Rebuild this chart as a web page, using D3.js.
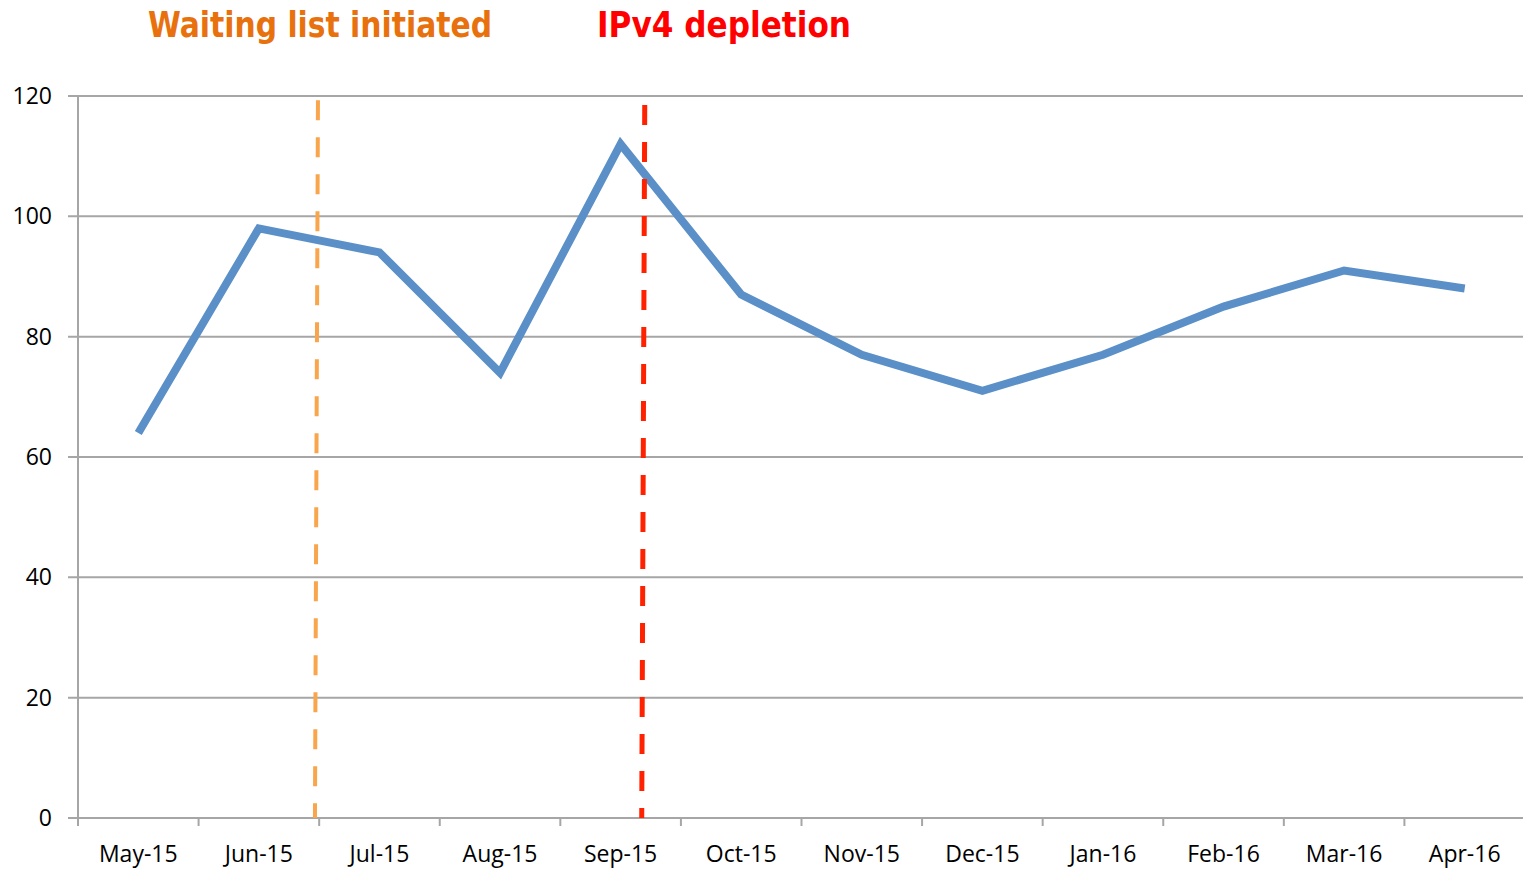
<!DOCTYPE html>
<html>
<head>
<meta charset="utf-8">
<script src="https://cdn.jsdelivr.net/npm/d3@7"></script>
<style>
  body { margin: 0; background: #fff; }
  svg { display: block; }
</style>
</head>
<body>
<div id="chart"></div>
<script>
var months = ["May-15", "Jun-15", "Jul-15", "Aug-15", "Sep-15", "Oct-15",
  "Nov-15", "Dec-15", "Jan-16", "Feb-16", "Mar-16", "Apr-16"];
var values = [64, 98, 94, 74, 112, 87, 77, 71, 77, 85, 91, 88];
var yTicks = [0, 20, 40, 60, 80, 100, 120];

// event markers, position given in month units from the left edge
var eventLabels = ["Waiting list initiated", "IPv4 depletion"];
var eventTop = [1.99, 4.70];
var eventBottom = [1.965, 4.675];
var eventTopValue = [119.3, 118.5];

var width = 1523, height = 871;
var plotLeft = 78, plotRight = 1525, plotTop = 96, plotBottom = 818;

var svg = d3.select("#chart").append("svg")
  .attr("width", width)
  .attr("height", height);

var x = d3.scaleBand().domain(months).range([plotLeft, plotRight]);
var xi = d3.scaleLinear().domain([0, months.length]).range([plotLeft, plotRight]);
var y = d3.scaleLinear().domain([0, 120]).range([plotBottom, plotTop]);

// grid lines
svg.append("g")
  .selectAll("line")
  .data(yTicks)
  .enter()
  .append("line")
  .attr("x1", plotLeft - 10)
  .attr("x2", width)
  .attr("y1", function (d) { return y(d); })
  .attr("y2", function (d) { return y(d); })
  .attr("stroke", "#a6a6a6")
  .attr("stroke-width", 2);

// y axis line
svg.append("line")
  .attr("x1", plotLeft).attr("x2", plotLeft)
  .attr("y1", plotTop).attr("y2", plotBottom + 8)
  .attr("stroke", "#a6a6a6")
  .attr("stroke-width", 2);

// x ticks at category boundaries
svg.append("g")
  .selectAll("line")
  .data(d3.range(1, months.length + 1))
  .enter()
  .append("line")
  .attr("x1", function (d) { return xi(d); })
  .attr("x2", function (d) { return xi(d); })
  .attr("y1", plotBottom)
  .attr("y2", plotBottom + 8)
  .attr("stroke", "#a6a6a6")
  .attr("stroke-width", 2);

// y labels
svg.append("g")
  .selectAll("text")
  .data(yTicks)
  .enter()
  .append("text")
  .attr("x", 52)
  .attr("y", function (d) { return y(d) + 8; })
  .attr("text-anchor", "end")
  .attr("font-family", "Open Sans, sans-serif")
  .attr("font-size", 23)
  .attr("fill", "#000")
  .text(function (d) { return d; });

// x labels
svg.append("g")
  .selectAll("text")
  .data(months)
  .enter()
  .append("text")
  .attr("x", function (d) { return x(d) + x.bandwidth() / 2; })
  .attr("y", 862)
  .attr("text-anchor", "middle")
  .attr("font-family", "Open Sans, sans-serif")
  .attr("font-size", 23)
  .attr("fill", "#000")
  .text(function (d) { return d; });

// data line
var line = d3.line()
  .x(function (d, i) { return x(months[i]) + x.bandwidth() / 2; })
  .y(function (d) { return y(d); });

svg.append("path")
  .datum(values)
  .attr("d", line)
  .attr("fill", "none")
  .attr("stroke", "#5b8fc7")
  .attr("stroke-width", 8)
  .attr("stroke-linejoin", "miter");

// event dashed lines
var eventColors = ["#f9a54b", "#ff2200"];
var eventWidths = [4, 5];
svg.append("g")
  .selectAll("line")
  .data(eventLabels)
  .enter()
  .append("line")
  .attr("x1", function (d, i) { return xi(eventTop[i]); })
  .attr("x2", function (d, i) { return xi(eventBottom[i]); })
  .attr("y1", function (d, i) { return y(eventTopValue[i]); })
  .attr("y2", y(0))
  .attr("stroke", function (d, i) { return eventColors[i]; })
  .attr("stroke-width", function (d, i) { return eventWidths[i]; })
  .attr("stroke-dasharray", "20,17");

// event labels
var labelColors = ["#e8710e", "#ff0000"];
var labelX = [148, 597];
var labelLen = [344, 254];
svg.append("g")
  .selectAll("text")
  .data(eventLabels)
  .enter()
  .append("text")
  .attr("x", function (d, i) { return labelX[i]; })
  .attr("y", 37)
  .attr("font-family", "DejaVu Sans, sans-serif")
  .attr("font-weight", "bold")
  .attr("font-size", 36)
  .attr("textLength", function (d, i) { return labelLen[i]; })
  .attr("lengthAdjust", "spacingAndGlyphs")
  .attr("fill", function (d, i) { return labelColors[i]; })
  .text(function (d) { return d; });
</script>
</body>
</html>
